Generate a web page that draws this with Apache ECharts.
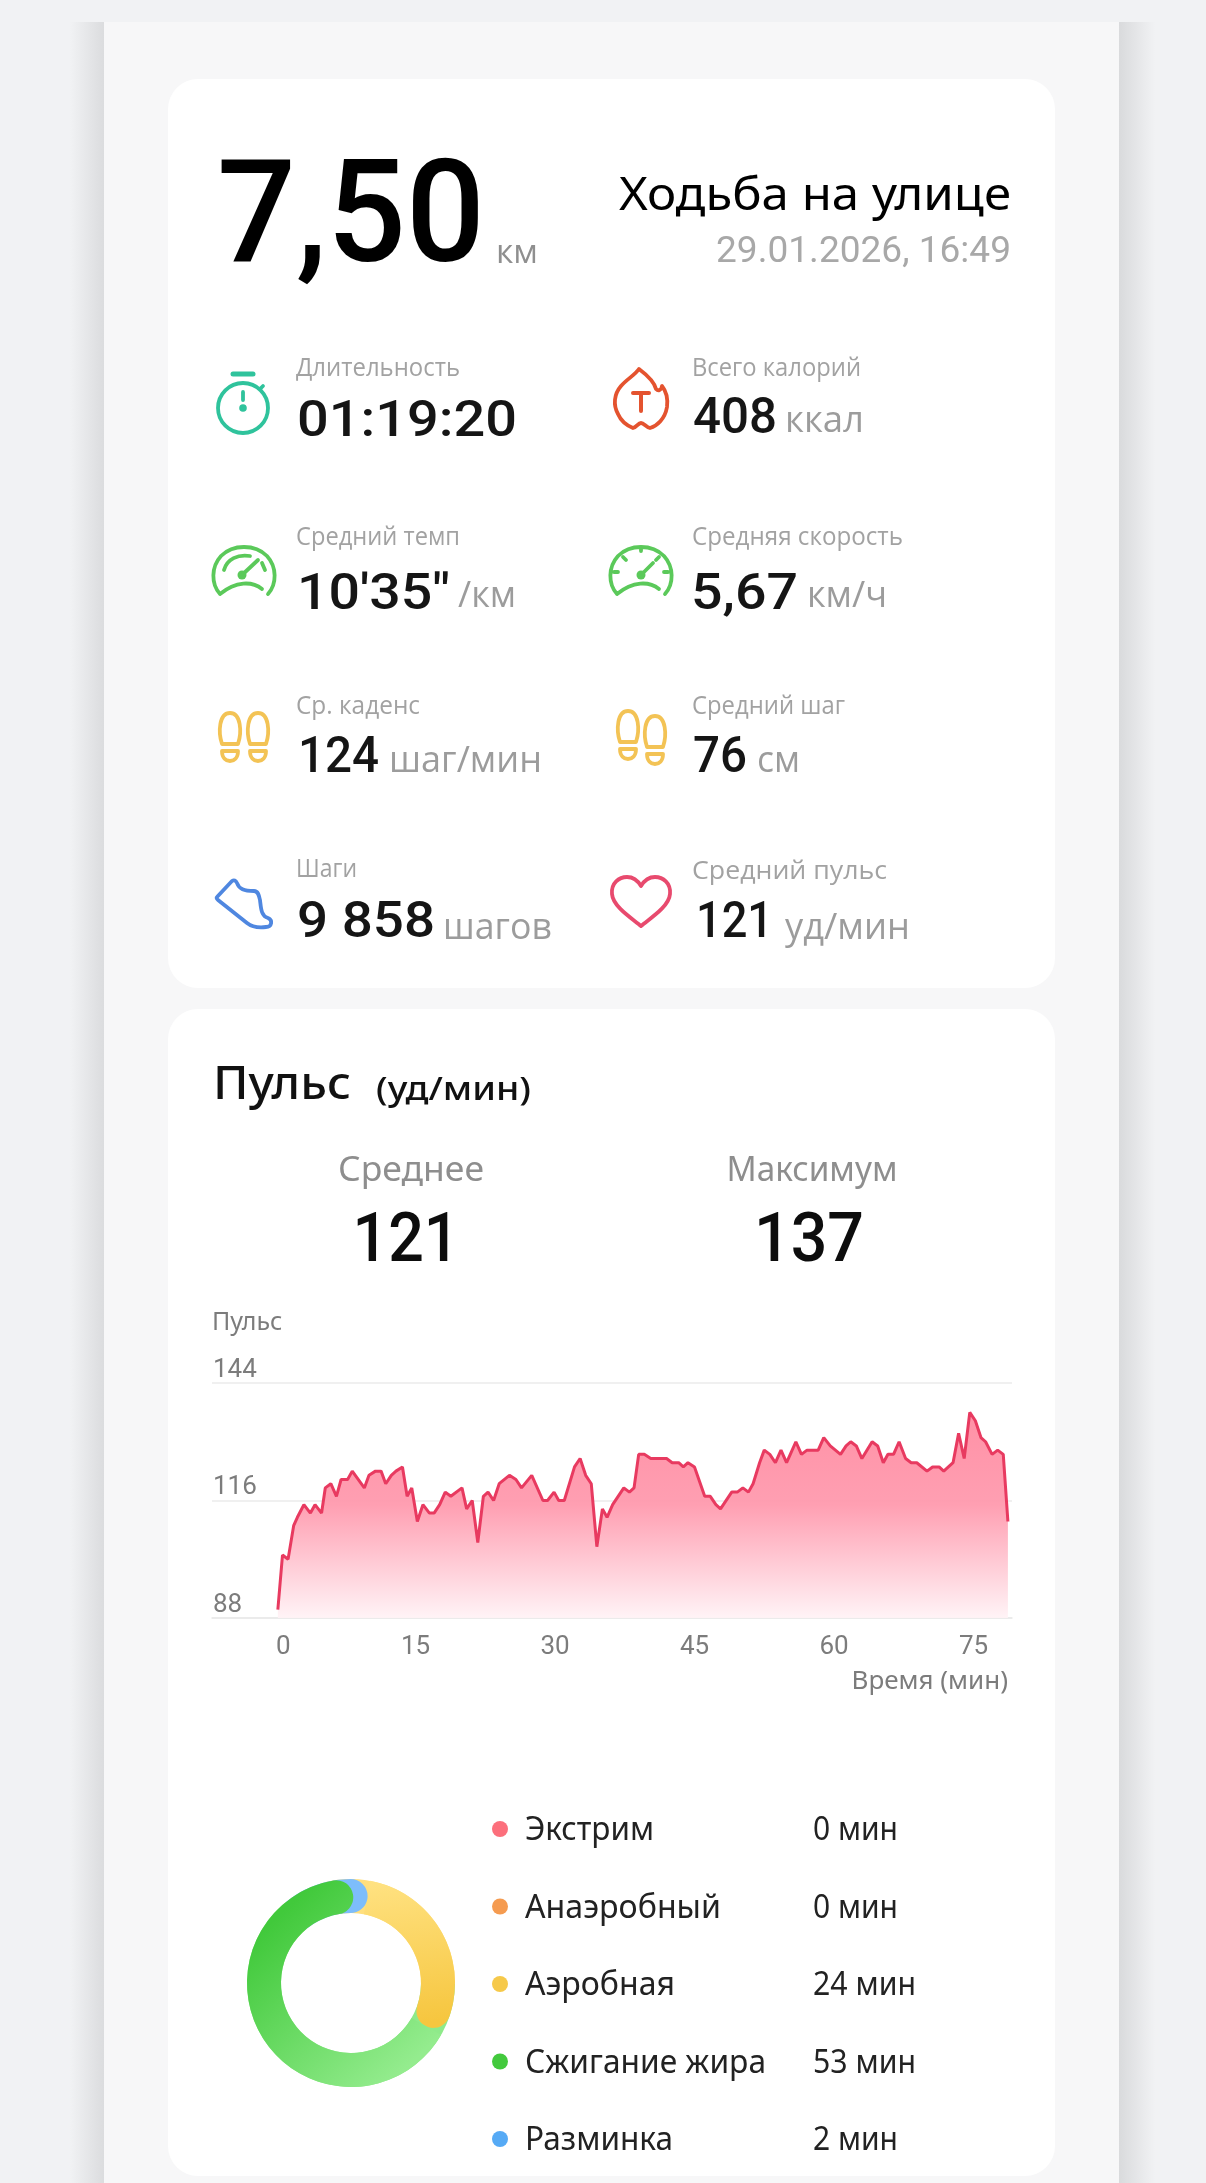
<!DOCTYPE html>
<html lang="ru">
<head>
<meta charset="utf-8">
<title>Ходьба на улице</title>
<style>html,body{margin:0;padding:0;background:#f1f2f4}#c{width:1206px;height:2183px}</style>
<script src="https://cdn.jsdelivr.net/npm/echarts@6/dist/echarts.min.js"></script>
</head>
<body>
<div id="c"></div>
<script>
// ---- data ----
var minutes = [0.2,0.7,1.3,1.9,2.3,3.0,3.7,4.2,4.9,5.3,5.9,6.5,7.0,7.7,8.2,9.5,10.0,10.7,11.3,11.8,12.4,12.9,13.6,14.1,14.6,15.2,15.8,16.5,17.0,17.6,18.2,18.8,20.0,20.5,21.1,21.7,22.3,22.8,23.4,24.0,25.1,25.8,26.4,27.5,28.7,29.2,29.9,30.4,31.0,32.1,32.7,33.3,33.9,34.5,35.1,35.6,36.2,37.4,38.0,38.5,39.0,39.6,40.3,42.0,42.6,43.3,43.8,44.3,45.0,46.1,46.7,47.3,47.8,49.0,49.6,50.2,50.8,51.3,52.0,52.5,53.1,53.7,54.3,54.9,55.3,55.9,56.5,57.1,58.3,58.9,59.6,60.7,61.3,61.8,62.4,63.0,64.1,64.7,65.3,65.8,66.4,67.0,67.7,68.3,68.9,70.0,70.6,71.3,71.8,72.8,73.4,74.0,74.6,75.2,75.8,76.3,77.0,77.6,78.2,78.7];
var pulse = [90,103,102,110,112,115,113,115,113,119,120,117,121,121,123,119,122,123,123,120,122,123,124,117,119,111,115,113,113,115,118,117,119,114,116,106,117,118,116,120,122,121,119,122,116,116,118,116,116,124,126,122,120,105,114,112,115,119,118,119,127,127,126,126,125,125,124,125,124,117,117,115,114,118,118,119,118,120,125,128,127,125,128,125,127,130,127,128,128,131,129,127,129,130,129,126,130,129,125,127,127,130,126,125,125,123,124,124,123,125,132,126,137,135,131,130,127,128,127,111];
var xTicks = [0,15,30,45,60,75];
var yTicks = [88,116,144];
var zoneNames = ['Экстрим','Анаэробный','Аэробная','Сжигание жира','Разминка'];
var zoneMinutes = [0,0,24,53,2];
var zoneColors = ['#fc6f7c','#f59b50','#f6c94a','#43c93d','#56aaf5'];
var stats = [
  ['Длительность','01:19:20',''],['Всего калорий','408','ккал'],
  ['Средний темп',"10'35\"",'/км'],['Средняя скорость','5,67','км/ч'],
  ['Ср. каденс','124','шаг/мин'],['Средний шаг','76','см'],
  ['Шаги','9 858','шагов'],['Средний пульс','121','уд/мин']
];

// ---- layout: text boxes [x, centre y, width] ----
var labelBoxes = [[296,369,164],[692,369,169],[296,538,164],[692,538,211],[296,707,124],[692,707,153],[296,870,61],[692,872,195]];
var valueBoxes = [[297,423,220],[693,420,84],[297,596,153],[691,596,107],[298,759,81],[693,759,54],[297,924,138],[696,924,77]];
var unitBoxes = [null,[785,421,79],[458,596,58],[807,596,80],[389,761,153],[757,761,43],[443,928,109],[785,928,125]];
var zoneNameWidths = [129,196,150,241,148];
var zoneValueWidths = [85,85,103,103,85];

var mctx = document.createElement('canvas').getContext('2d');
function txt(str, x, y, size, color, family, target, align, weight) {
  var font = (weight || 400) + ' ' + size + 'px ' + family;
  mctx.font = font;
  var sx = target ? target / mctx.measureText(str).width : 1;
  return {type:'text', x:x, y:y, scaleX:sx, silent:true, z:10,
    style:{text:str, x:0, y:0, fill:color, font:font, textAlign:align||'left', textVerticalAlign:'middle'}};
}
var iconCount = 0;
function icon(x, y, d, color, lw, fill) {
  var name = 'resketchIcon' + (iconCount++);
  echarts.graphic.registerShape(name, echarts.graphic.extendPath(d, {}));
  return {type:name, x:x, y:y, silent:true, z:10,
    style:{fill:fill||'none', stroke:color, lineWidth:lw||3.8, lineCap:'round', lineJoin:'round'}};
}
var NUM = 'Roboto, sans-serif', TXT = '"Open Sans", sans-serif', CAP = '"Noto Sans", sans-serif';
var g = [];
// panel, shadows, cards
g.push({type:'rect', silent:true, shape:{x:70,y:22,width:34,height:2161},
  style:{fill:{type:'linear',x:0,y:0,x2:1,y2:0,colorStops:[{offset:0,color:'#f1f2f4'},{offset:1,color:'#dbdcde'}]}}});
g.push({type:'rect', silent:true, shape:{x:1119,y:22,width:36,height:2161},
  style:{fill:{type:'linear',x:0,y:0,x2:1,y2:0,colorStops:[{offset:0,color:'#d9dadc'},{offset:1,color:'#f1f2f4'}]}}});
g.push({type:'rect', silent:true, shape:{x:104,y:22,width:1015,height:2161}, style:{fill:'#f7f7f8'}});
g.push({type:'rect', silent:true, shape:{x:168,y:79,width:887,height:909,r:30}, style:{fill:'#fff'}});
g.push({type:'rect', silent:true, shape:{x:168,y:1009,width:887,height:1167,r:30}, style:{fill:'#fff'}});
// header
g.push(txt('7,50',217,225,143,'#000',NUM,268,'left',500));
g.push(txt('км',496,254,32,'#8f8f8f',TXT,42));
g.push(txt('Ходьба на улице',1011,197,46,'#000',CAP,392,'right'));
g.push(txt('29.01.2026, 16:49',1011,253,36,'#a8a8a8',NUM,295,'right'));
// stats
stats.forEach(function (s, i) {
  var l = labelBoxes[i], v = valueBoxes[i], u = unitBoxes[i];
  g.push(txt(s[0], l[0], l[1], 25, '#a2a2a2', TXT, l[2]));
  g.push(txt(s[1], v[0], v[1], 50, '#151515', NUM, v[2], 'left', 500));
  if (s[2]) g.push(txt(s[2], u[0], u[1], 37, '#9c9c9c', TXT, u[2]));
});
// icons
g.push(icon(243,408,'M25,0A25,25 0 1,1 -25,0A25,25 0 1,1 25,0M0,-16V-8M17,-19L20,-22','#2fc39c'));
g.push(icon(243,374,'M-10,0H10','#2fc39c',5));
g.push({type:'circle',silent:true,z:10,shape:{cx:243,cy:408,r:3.8},style:{fill:'#2fc39c'}});
g.push(icon(641,399,'M-2,-30C-6,-24 -14,-20 -20,-13C-27,-5 -28,6 -23,15C-20,22 -13,27 -8,29C-4,28 -3,24 0,24C3,24 5,28 9,29C16,27 24,20 26,8C27,0 25,-8 21,-13C20,-8 17,-8 15,-10C13,-18 6,-24 -2,-30Z','#e4532f'));
g.push(icon(641,401,'M-8,-8H8M0,-8V10','#e4532f',4));
var gaugeBody = 'M-24,24C-33,14 -33,-3 -23,-14C-11,-26 11,-26 23,-14C33,-3 33,14 24,24M18,19C8,11 -8,11 -24,24';
g.push(icon(244,570,gaugeBody+'M-20,0C-17,-11 -6,-16 6,-14M18,-7L21,0M-2,5L14,-10','#5bc95a'));
g.push({type:'circle',silent:true,z:10,shape:{cx:242,cy:575,r:4.5},style:{fill:'#5bc95a'}});
g.push(icon(641,570,gaugeBody+'M0,-23V-19M-18,-13L-15,-10M18,-13L15,-10M-27,2H-23M27,2H23M0,5L12,-7','#5bc95a'));
g.push({type:'circle',silent:true,z:10,shape:{cx:641,cy:575,r:4.5},style:{fill:'#5bc95a'}});
var sole = 'M-8,7C-12,-5 -11,-24 0,-24C11,-24 12,-5 8,7ZM-8,14H8C8,21 4,24 0,24C-4,24 -8,21 -8,14Z';
g.push(icon(230,737,sole,'#f3c355'));
g.push(icon(258,737,sole,'#f3c355'));
g.push(icon(628,735,sole,'#f3c355'));
g.push(icon(655,740,sole,'#f3c355'));
g.push(icon(244,903,'M-27,-6L-12,-22Q-9,-24 -7,-20C-5,-14 0,-12 10,-12C14,-12 15,-8 16,-3C17,5 17,13 24,15C29,17 28,24 22,24C14,25 8,24 3,20L-26,-3Q-28,-5 -27,-6Z','#4f87e0'));
g.push(icon(641,902,'M0,24C-8,17 -28,5 -29,-8C-30,-19 -22,-25 -14,-25C-7,-25 -3,-21 0,-16C3,-21 7,-25 14,-25C22,-25 30,-19 29,-8C28,5 8,17 0,24Z','#e84a6e'));
// pulse header
g.push(txt('Пульс',213,1086,46,'#111',CAP,138,'left',500));
g.push(txt('(уд/мин)',376,1091,33,'#111',CAP,155,'left',500));
g.push(txt('Среднее',411,1171,34,'#8e8e8e',CAP,146,'center'));
g.push(txt('Максимум',812,1171,34,'#8e8e8e',CAP,171,'center'));
g.push(txt('121',406,1244,68,'#0d0d0d',NUM,107,'center',500));
g.push(txt('137',809,1244,68,'#0d0d0d',NUM,110,'center',500));
// zone legend
zoneNames.forEach(function (n, i) {
  var y = 1829 + i * 77.5;
  g.push({type:'circle', silent:true, z:10, shape:{cx:500,cy:y,r:8}, style:{fill:zoneColors[i]}});
  g.push(txt(n, 525, y + 2, 32, '#222', CAP, zoneNameWidths[i]));
  g.push(txt(zoneMinutes[i] + ' мин', 813, y + 2, 32, '#222', CAP, zoneValueWidths[i]));
});

// ring: a flat base under rounded arcs, so each rounded end sits on its neighbour's colour
var totalMinutes = zoneMinutes.reduce(function (a, b) { return a + b; }, 0);
var gradGreen = {type:'linear',x:1,y:0.75,x2:0.3,y2:0.05,colorStops:[{offset:0,color:'#94ec8e'},{offset:1,color:'#41c93b'}]};
var gradYellow = {type:'linear',x:0,y:0,x2:0.2,y2:1,colorStops:[{offset:0,color:'#ffe282'},{offset:1,color:'#f6c63f'}]};
var blueFill = '#7dbdfb';
function arc(i, fill, startAngle, minAngle) {
  return {type:'pie', silent:true, center:[351,1983], radius:[70,104], startAngle:startAngle, minAngle:minAngle||0,
    label:{show:false}, labelLine:{show:false}, z:4,
    data:[{name:zoneNames[i], value:zoneMinutes[i], itemStyle:{color:fill, borderRadius:[0,17,0,17]}},
          {name:'', value:totalMinutes - zoneMinutes[i], itemStyle:{color:'transparent'}}]};
}
var baseSeries = {type:'pie', silent:true, center:[351,1983], radius:[70,104], startAngle:104, minAngle:25,
  label:{show:false}, labelLine:{show:false}, z:3,
  data:[{name:zoneNames[2], value:zoneMinutes[2], itemStyle:{color:'#ffdf7e'}},
        {name:zoneNames[3], value:zoneMinutes[3], itemStyle:{color:'#8eea8a'}},
        {name:zoneNames[4], value:zoneMinutes[4], itemStyle:{color:blueFill}}]};

var chart = echarts.init(document.getElementById('c'), null, {renderer:'canvas', width:1206, height:2183});
chart.setOption({
  animation:false,
  backgroundColor:'#f1f2f4',
  graphic:{elements:g},
  grid:{left:212, top:1383, width:800, height:235, containLabel:false},
  xAxis:{
    type:'value', min:-6.88, max:79.14,
    name:'Время (мин)', nameLocation:'end', nameGap:-4,
    nameTextStyle:{color:'#7c7c7c', fontFamily:CAP, fontSize:26, align:'right', verticalAlign:'top', padding:[51,0,0,0]},
    axisLine:{show:true, onZero:false, lineStyle:{color:'#e9e9e9', width:1.5}},
    axisTick:{show:false, customValues:xTicks},
    splitLine:{show:false},
    axisLabel:{customValues:xTicks, color:'#7c7c7c', fontFamily:NUM, fontSize:26, margin:16, alignMinLabel:'left'}
  },
  yAxis:{
    type:'value', min:88, max:144,
    name:'Пульс', nameLocation:'end', nameGap:48,
    nameTextStyle:{color:'#7c7c7c', fontFamily:CAP, fontSize:25, align:'left'},
    axisLine:{show:false, onZero:false},
    axisTick:{show:false, customValues:yTicks},
    splitLine:{show:true, lineStyle:{color:'#ebebeb', width:1.5}},
    axisLabel:{inside:true, customValues:yTicks, color:'#7c7c7c', fontFamily:NUM, fontSize:26, margin:1, verticalAlign:'bottom', align:'left'}
  },
  series:[
    {type:'line', silent:true, symbol:'none', z:3,
     data:minutes.map(function (m, i) { return [m, pulse[i]]; }),
     lineStyle:{color:'#e83a60', width:3},
     areaStyle:{origin:'start', opacity:0.95, color:{type:'linear',x:0,y:0,x2:0,y2:1,colorStops:[{offset:0,color:'#ff8ba1'},{offset:0.45,color:'#ff9aae'},{offset:1,color:'#fff3f6'}]}}
    },
    baseSeries,
    arc(2, gradYellow, 79.4),
    arc(4, blueFill, 104, 25),
    arc(3, gradGreen, -30)
  ]
});
</script>
</body>
</html>
